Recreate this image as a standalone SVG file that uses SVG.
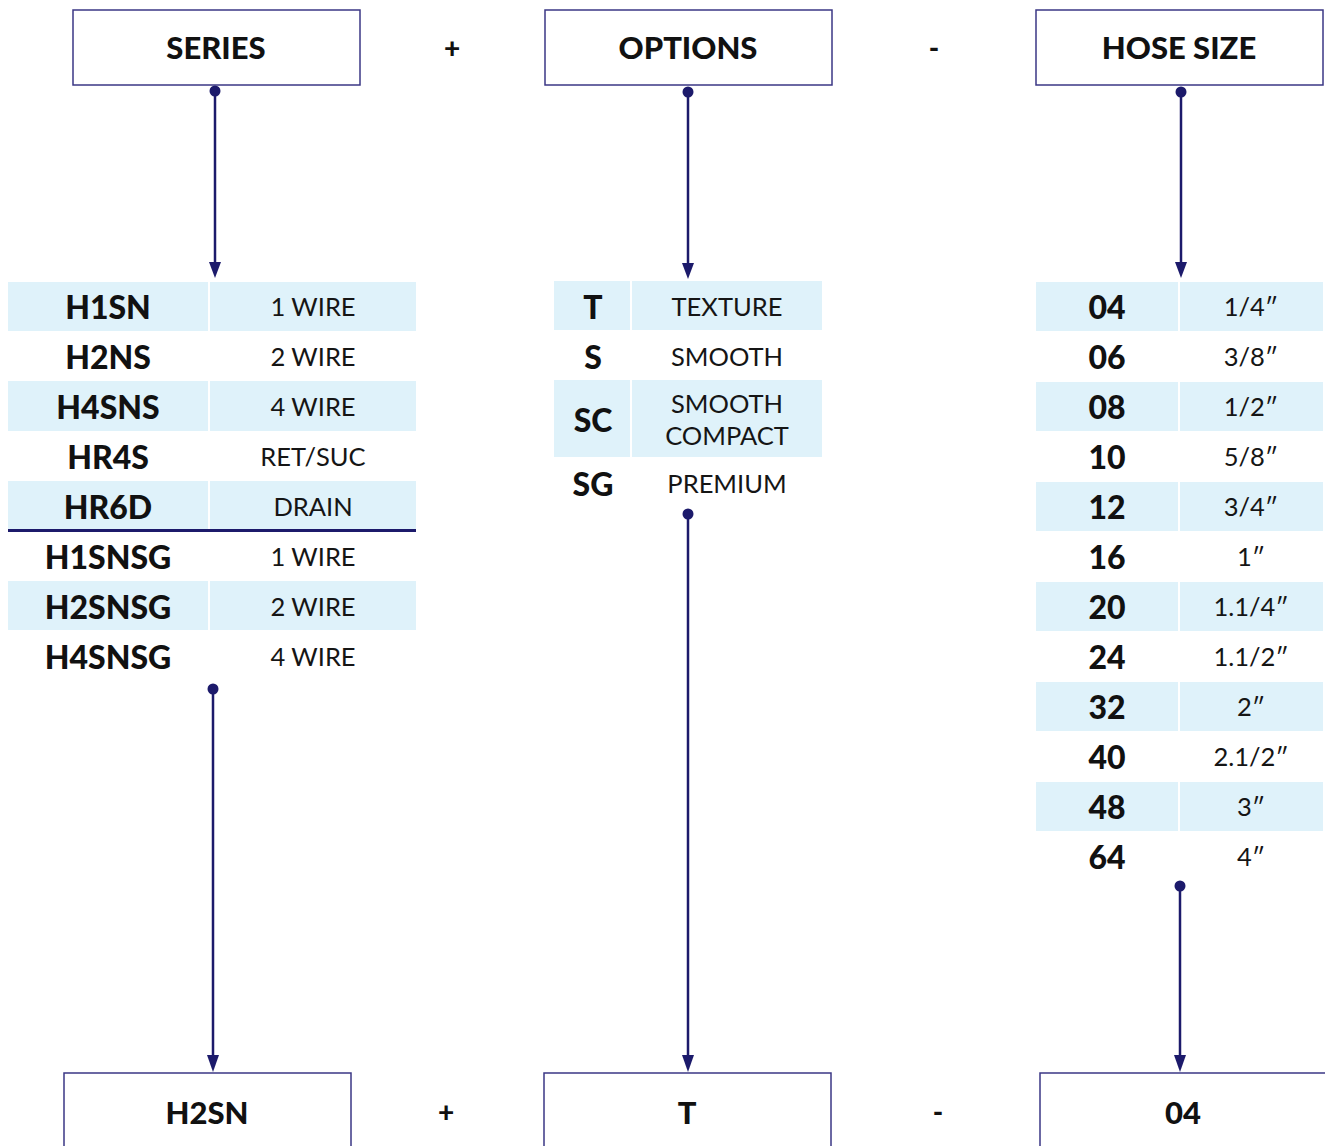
<svg xmlns="http://www.w3.org/2000/svg" width="1325" height="1146" viewBox="0 0 1325 1146">
<style>
.box{fill:#fff;stroke:#3b3785;stroke-width:1.5}
.hd{font-family:Lato,"Liberation Sans",sans-serif;font-weight:900;font-size:31px;fill:#111;text-anchor:middle;dominant-baseline:central}
.op{font-family:Lato,"Liberation Sans",sans-serif;font-weight:900;font-size:28px;fill:#111;text-anchor:middle;dominant-baseline:central}
.cd{font-family:Lato,"Liberation Sans",sans-serif;font-weight:900;font-size:32px;fill:#111;text-anchor:middle;dominant-baseline:central}
.ds{font-family:Lato,"Liberation Sans",sans-serif;font-size:25.5px;fill:#151515;text-anchor:middle;dominant-baseline:central}
.bl{fill:#dff2fa}
.ln{stroke:#1c1a6b;stroke-width:2.5;fill:none}
.dt{fill:#1c1a6b}
.sep{stroke:#fff;stroke-width:2}
</style>

<g id="series-head"><rect class="box" x="73" y="10" width="287" height="75"/><text class="hd" x="216" y="47">SERIES</text></g>
<text class="op" x="452" y="47">+</text>
<g id="options-head"><rect class="box" x="545" y="10" width="287" height="75"/><text class="hd" x="688" y="47">OPTIONS</text></g>
<text class="op" x="934" y="47">-</text>
<g id="hose-head"><rect class="box" x="1036" y="10" width="287" height="75"/><text class="hd" x="1179" y="47">HOSE SIZE</text></g>

<g id="series-table">
<rect class="bl" x="8" y="282" width="408" height="49"/>
<rect class="bl" x="8" y="381" width="408" height="50"/>
<rect class="bl" x="8" y="481" width="408" height="48"/>
<rect class="bl" x="8" y="581" width="408" height="49"/>
<line class="sep" x1="209" y1="282" x2="209" y2="331"/>
<line class="sep" x1="209" y1="381" x2="209" y2="431"/>
<line class="sep" x1="209" y1="481" x2="209" y2="529"/>
<line class="sep" x1="209" y1="581" x2="209" y2="630"/>
<line x1="8" y1="530.5" x2="416" y2="530.5" stroke="#1c1a6b" stroke-width="3"/>
<text class="cd" x="108" y="306">H1SN</text><text class="ds" x="313" y="306">1 WIRE</text>
<text class="cd" x="108" y="356">H2NS</text><text class="ds" x="313" y="356">2 WIRE</text>
<text class="cd" x="108" y="406">H4SNS</text><text class="ds" x="313" y="406">4 WIRE</text>
<text class="cd" x="108" y="456">HR4S</text><text class="ds" x="313" y="456">RET/SUC</text>
<text class="cd" x="108" y="506">HR6D</text><text class="ds" x="313" y="506">DRAIN</text>
<text class="cd" x="108" y="556">H1SNSG</text><text class="ds" x="313" y="556">1 WIRE</text>
<text class="cd" x="108" y="606">H2SNSG</text><text class="ds" x="313" y="606">2 WIRE</text>
<text class="cd" x="108" y="656">H4SNSG</text><text class="ds" x="313" y="656">4 WIRE</text>
</g>

<g id="options-table">
<rect class="bl" x="554" y="281" width="268" height="49"/>
<rect class="bl" x="554" y="380" width="268" height="77"/>
<line class="sep" x1="631" y1="281" x2="631" y2="330"/>
<line class="sep" x1="631" y1="380" x2="631" y2="457"/>
<text class="cd" x="593" y="306">T</text><text class="ds" x="727" y="306">TEXTURE</text>
<text class="cd" x="593" y="356">S</text><text class="ds" x="727" y="356">SMOOTH</text>
<text class="cd" x="593" y="419">SC</text><text class="ds" x="727" y="403">SMOOTH</text><text class="ds" x="727" y="435">COMPACT</text>
<text class="cd" x="593" y="483">SG</text><text class="ds" x="727" y="483">PREMIUM</text>
</g>

<g id="hose-table">
<rect class="bl" x="1036" y="282" width="287" height="49"/>
<rect class="bl" x="1036" y="382" width="287" height="49"/>
<rect class="bl" x="1036" y="482" width="287" height="49"/>
<rect class="bl" x="1036" y="582" width="287" height="49"/>
<rect class="bl" x="1036" y="682" width="287" height="49"/>
<rect class="bl" x="1036" y="782" width="287" height="49"/>
<g class="sep">
<line x1="1179" y1="282" x2="1179" y2="331"/><line x1="1179" y1="382" x2="1179" y2="431"/><line x1="1179" y1="482" x2="1179" y2="531"/>
<line x1="1179" y1="582" x2="1179" y2="631"/><line x1="1179" y1="682" x2="1179" y2="731"/><line x1="1179" y1="782" x2="1179" y2="831"/>
</g>
<text class="cd" x="1107" y="306">04</text><text class="ds" x="1251" y="306">1/4″</text>
<text class="cd" x="1107" y="356">06</text><text class="ds" x="1251" y="356">3/8″</text>
<text class="cd" x="1107" y="406">08</text><text class="ds" x="1251" y="406">1/2″</text>
<text class="cd" x="1107" y="456">10</text><text class="ds" x="1251" y="456">5/8″</text>
<text class="cd" x="1107" y="506">12</text><text class="ds" x="1251" y="506">3/4″</text>
<text class="cd" x="1107" y="556">16</text><text class="ds" x="1251" y="556">1″</text>
<text class="cd" x="1107" y="606">20</text><text class="ds" x="1251" y="606">1.1/4″</text>
<text class="cd" x="1107" y="656">24</text><text class="ds" x="1251" y="656">1.1/2″</text>
<text class="cd" x="1107" y="706">32</text><text class="ds" x="1251" y="706">2″</text>
<text class="cd" x="1107" y="756">40</text><text class="ds" x="1251" y="756">2.1/2″</text>
<text class="cd" x="1107" y="806">48</text><text class="ds" x="1251" y="806">3″</text>
<text class="cd" x="1107" y="856">64</text><text class="ds" x="1251" y="856">4″</text>
</g>

<g id="connectors">
<circle class="dt" cx="215" cy="91" r="5.5"/><line class="ln" x1="215" y1="91" x2="215" y2="265"/><path class="dt" d="M209,262 L221,262 L215,278 Z"/>
<circle class="dt" cx="688" cy="92" r="5.5"/><line class="ln" x1="688" y1="92" x2="688" y2="265"/><path class="dt" d="M682,263 L694,263 L688,279 Z"/>
<circle class="dt" cx="1181" cy="92" r="5.5"/><line class="ln" x1="1181" y1="92" x2="1181" y2="265"/><path class="dt" d="M1175,262 L1187,262 L1181,278 Z"/>
<circle class="dt" cx="213" cy="689" r="5.5"/><line class="ln" x1="213" y1="689" x2="213" y2="1058"/><path class="dt" d="M207,1055 L219,1055 L213,1072 Z"/>
<circle class="dt" cx="688" cy="514" r="5.5"/><line class="ln" x1="688" y1="514" x2="688" y2="1058"/><path class="dt" d="M682,1055 L694,1055 L688,1072 Z"/>
<circle class="dt" cx="1180" cy="886" r="5.5"/><line class="ln" x1="1180" y1="886" x2="1180" y2="1058"/><path class="dt" d="M1174,1055 L1186,1055 L1180,1072 Z"/>
</g>

<g id="series-result"><rect class="box" x="64" y="1073" width="287" height="90"/><text class="hd" x="207" y="1112">H2SN</text></g>
<text class="op" x="446" y="1111">+</text>
<g id="options-result"><rect class="box" x="544" y="1073" width="287" height="90"/><text class="hd" x="687" y="1112">T</text></g>
<text class="op" x="938" y="1111">-</text>
<g id="hose-result"><rect class="box" x="1040" y="1073" width="300" height="90"/><text class="hd" x="1183" y="1112">04</text></g>
</svg>
